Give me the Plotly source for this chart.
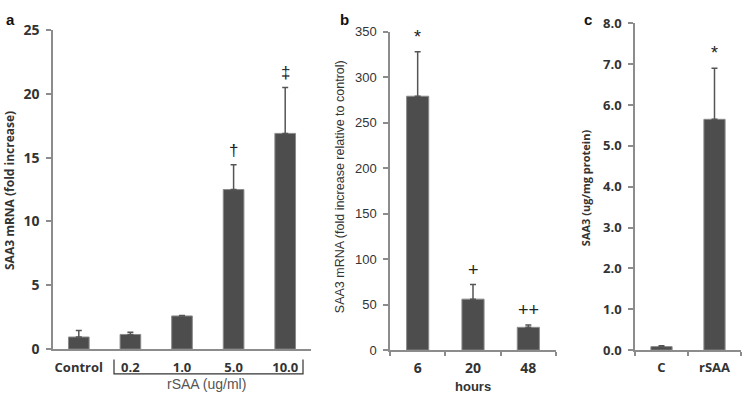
import plotly.graph_objects as go

# Panel a
a_cats = ["Control", "0.2", "1.0", "5.0", "10.0"]
a_vals = [0.95, 1.15, 2.6, 12.5, 16.9]
a_err = [0.5, 0.18, 0.04, 1.95, 3.6]
a_marks = ["", "", "", "†", "‡"]

# Panel b
b_cats = ["6", "20", "48"]
b_vals = [279, 56, 25]
b_err = [49, 16, 2.5]
b_marks = ["*", "+", "++"]

# Panel c
c_cats = ["C", "rSAA"]
c_vals = [0.085, 5.65]
c_err = [0.02, 1.25]
c_marks = ["", "*"]

W, H = 745, 401
BAR = "#4d4d4d"
EDGE = "#8a8a8a"
AX = "#8c8c8c"
TXT = "#333333"
BOLD = "Open Sans"
ARIAL = "Liberation Sans"

def px(x):
    return x / W

def py(y):
    return 1 - y / H

fig = go.Figure()

def add_panel(cats, vals, err, xa, ya):
    fig.add_trace(go.Bar(
        x=cats, y=vals, xaxis=xa, yaxis=ya,
        marker=dict(color=BAR, line=dict(color=EDGE, width=1)),
        error_y=dict(type="data", array=err, arrayminus=[0] * len(err), symmetric=False,
                     color="#555555", thickness=1.5, width=3),
        showlegend=False, hoverinfo="skip",
    ))

add_panel(a_cats, a_vals, a_err, "x", "y")
add_panel(b_cats, b_vals, b_err, "x2", "y2")
add_panel(c_cats, c_vals, c_err, "x3", "y3")

def xaxis(dom, anchor, ticks, tickfont, n, standoff):
    return dict(domain=dom, anchor=anchor, type="category", range=[-0.5, n - 0.5],
                showline=True, linecolor=AX, linewidth=1.5,
                ticks=ticks, tickson="boundaries", ticklen=4, tickcolor=AX, tickwidth=1.5,
                ticklabelstandoff=standoff,
                showgrid=False, zeroline=False, tickfont=tickfont, tickangle=0, fixedrange=True)

def yaxis(dom, anchor, rng, dtick, fmt, tickfont):
    return dict(domain=dom, anchor=anchor, range=rng, dtick=dtick, tickformat=fmt, showline=True,
                linecolor=AX, linewidth=1.5, ticks="outside", ticklen=5, tickcolor=AX, tickwidth=1.5,
                ticklabelstandoff=4,
                showgrid=False, zeroline=False, tickfont=tickfont, fixedrange=True)

fig.update_layout(
    width=W, height=H, margin=dict(l=0, r=0, t=0, b=0),
    paper_bgcolor="white", plot_bgcolor="white", bargap=0.6,
    xaxis=xaxis([px(53), px(311)], "y", "", dict(family=BOLD, size=13, color=TXT, weight="bold"), len(a_cats), 6),
    yaxis=yaxis([py(356), py(21)], "x", [0, 25], 5, "d", dict(family=BOLD, size=14, color=TXT, weight="bold")),
    xaxis2=xaxis([px(390), px(556)], "y2", "outside", dict(family=BOLD, size=14, color=TXT, weight="bold"), len(b_cats), 4),
    yaxis2=yaxis([py(357), py(22.7)], "x2", [0, 350], 50, "d", dict(family=ARIAL, size=13, color=TXT)),
    xaxis3=xaxis([px(635), px(741)], "y3", "outside", dict(family=BOLD, size=13, color=TXT, weight="bold"), len(c_cats), 5),
    yaxis3=yaxis([py(357), py(14)], "x3", [0, 8], 1, ".1f", dict(family=BOLD, size=13, color=TXT, weight="bold")),
)

ann = []
for vals, err, marks, xr, yr, size in [
    (a_vals, a_err, a_marks, "x", "y", 17),
    (b_vals, b_err, b_marks, "x2", "y2", 18),
    (c_vals, c_err, c_marks, "x3", "y3", 18),
]:
    for i, (v, e, m) in enumerate(zip(vals, err, marks)):
        if m:
            ann.append(dict(x=i, y=v + e, xref=xr, yref=yr, text=m, showarrow=False,
                            yanchor="bottom", yshift=3, font=dict(family=ARIAL, size=size, color="#222")))

for t, x in [("a", 4), ("b", 338), ("c", 582)]:
    ann.append(dict(x=px(x), y=py(10), xref="paper", yref="paper", text=t, showarrow=False,
                    xanchor="left", yanchor="middle", font=dict(family=ARIAL, size=15, color="#111", weight="bold")))

ann.append(dict(x=px(10), y=py(190), xref="paper", yref="paper", text="SAA3 mRNA (fold increase)",
                textangle=-90, showarrow=False, xanchor="center", yanchor="middle",
                font=dict(family=BOLD, size=12, color=TXT, weight="bold")))
ann.append(dict(x=px(340), y=py(186), xref="paper", yref="paper",
                text="SAA3 mRNA (fold increase relative to control)",
                textangle=-90, showarrow=False, xanchor="center", yanchor="middle",
                font=dict(family=ARIAL, size=12.5, color=TXT)))
ann.append(dict(x=px(585), y=py(187), xref="paper", yref="paper", text="SAA3 (ug/mg protein)",
                textangle=-90, showarrow=False, xanchor="center", yanchor="middle",
                font=dict(family=BOLD, size=11, color=TXT, weight="bold")))

ann.append(dict(x=px(206), y=py(393), xref="paper", yref="paper", text="rSAA (ug/ml)", showarrow=False,
                xanchor="center", yanchor="middle", font=dict(family=ARIAL, size=14, color="#555555")))
ann.append(dict(x=px(473), y=py(395), xref="paper", yref="paper", text="hours", showarrow=False,
                xanchor="center", yanchor="middle", font=dict(family=ARIAL, size=13, color=TXT, weight="bold")))

fig.update_layout(annotations=ann)

# bracket under the rSAA dose labels
fig.add_shape(type="path", xref="paper", yref="paper",
              path=f"M {px(114)} {py(367)} L {px(114)} {py(382)} L {px(303)} {py(382)} L {px(303)} {py(367)}",
              line=dict(color="#333", width=1.2))

fig.write_html("out.html", config={"displayModeBar": False},
               post_script="document.body.style.margin='0';")
